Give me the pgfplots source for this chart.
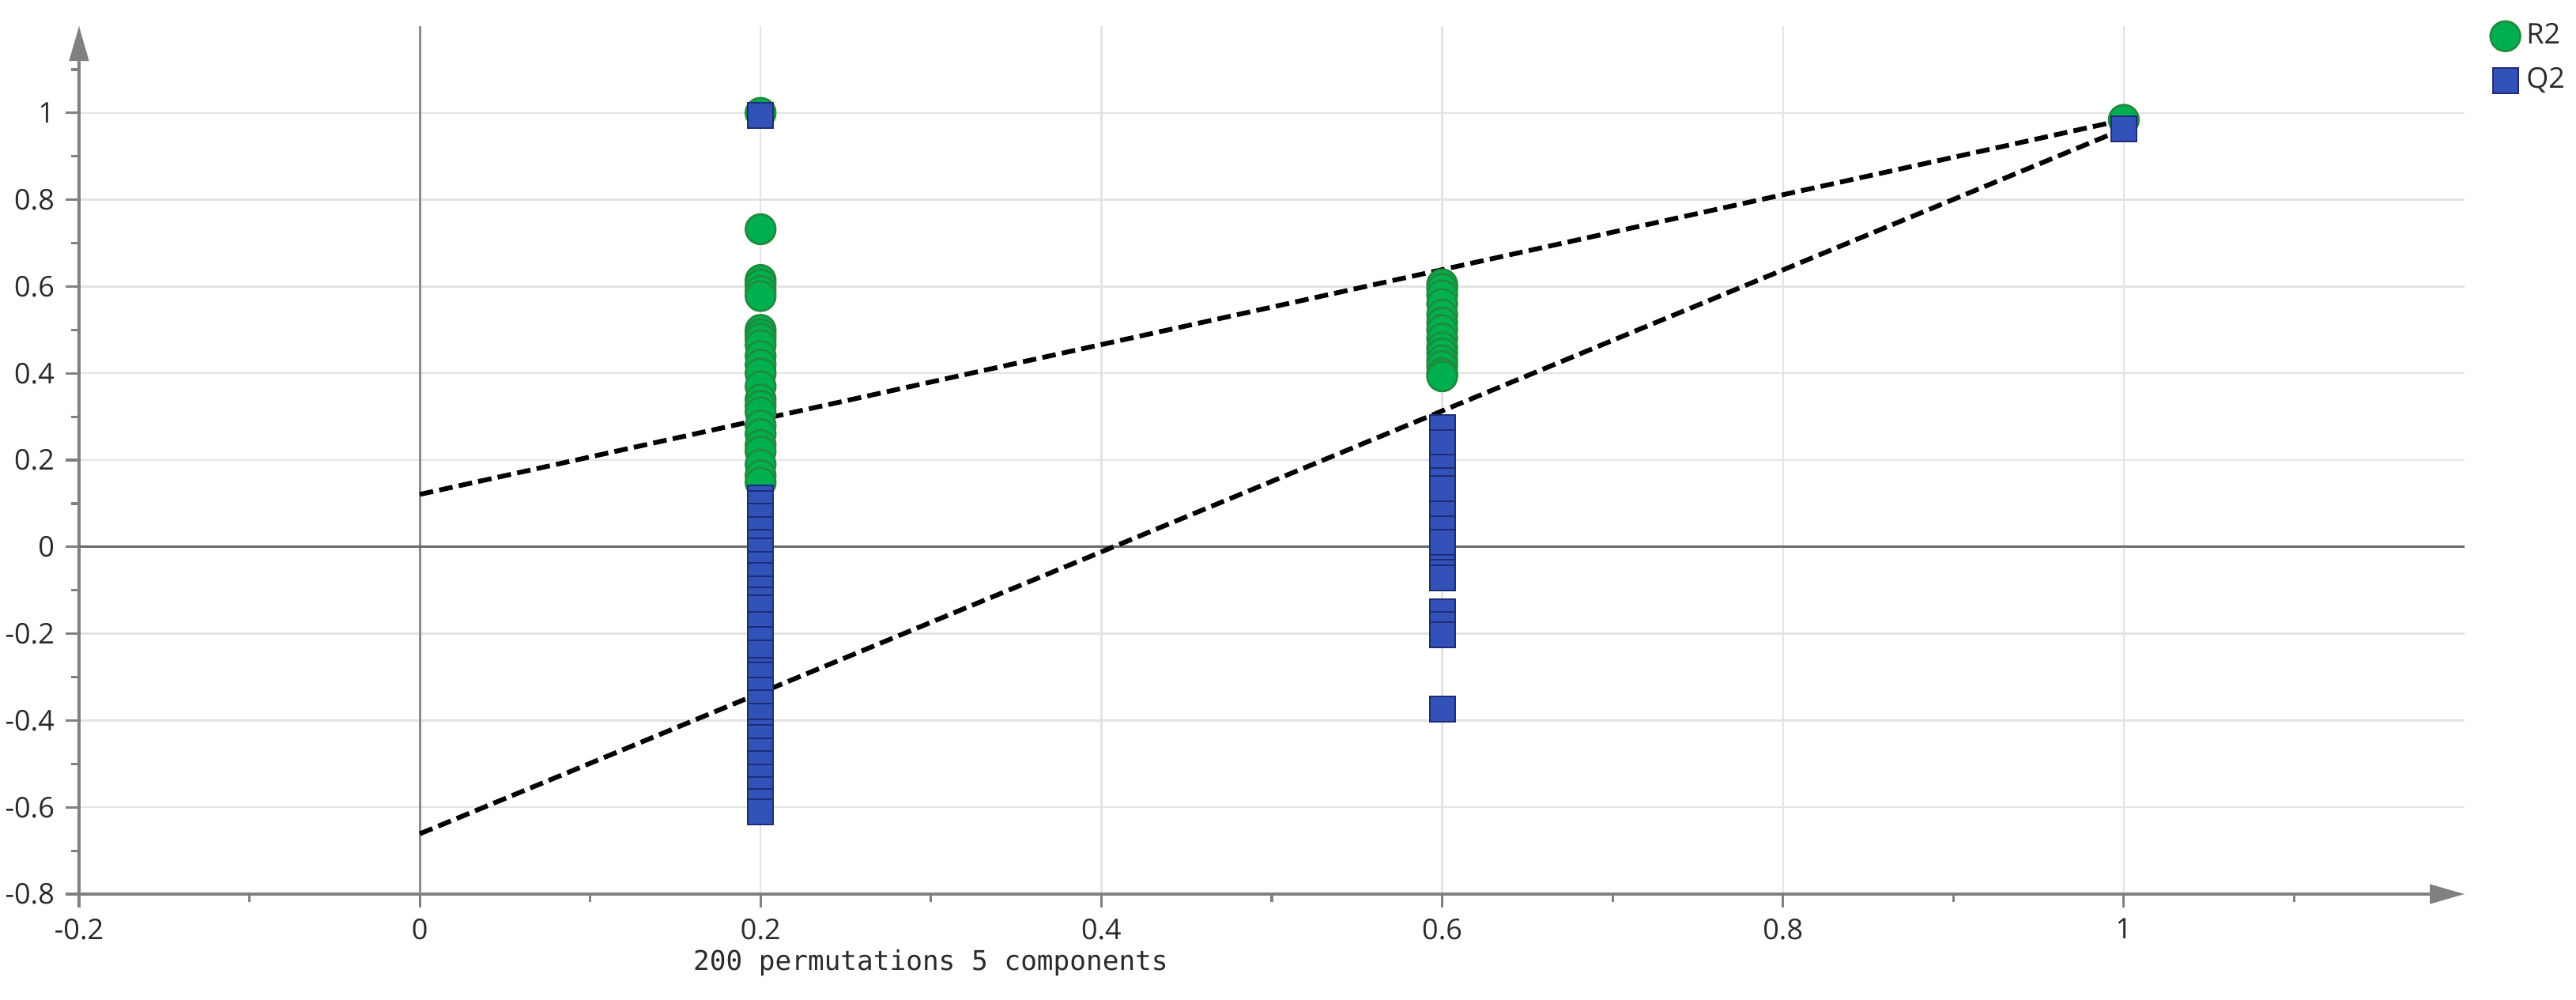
\documentclass[border=0pt]{standalone}
\usepackage{fontspec}
\setmainfont{Open Sans}
\newfontfamily\monofont{DejaVu Sans Mono}
\usepackage{pgfplots}
\pgfplotsset{compat=1.18}
\usetikzlibrary{arrows.meta}
\definecolor{rtwo}{HTML}{00B050}
\definecolor{rtwoedge}{HTML}{1E8C3C}
\definecolor{qtwo}{HTML}{3252B9}
\definecolor{qtwoedge}{HTML}{1E2C78}
\definecolor{axgray}{HTML}{808080}
\definecolor{gridgray}{HTML}{E3E3E3}
\definecolor{zeroxgray}{HTML}{8C8C8C}
\definecolor{zeroygray}{HTML}{6A6A6A}
\definecolor{labgray}{HTML}{2A2A2A}
\begin{document}
\begin{tikzpicture}
\useasboundingbox (-25pt,-33.5pt) rectangle (789.75pt,282.75pt);
\begin{axis}[
  scale only axis, width=754.5pt, height=274.5pt,
  xmin=-0.2, xmax=1.2, ymin=-0.8, ymax=1.2,
  axis lines*=left,
  axis line style={draw=axgray, line width=1.1pt, -{Triangle[length=11pt,width=6pt]}},
  tick align=outside,
  major tick length=4.25pt, minor tick length=2.5pt,
  tick style={draw=axgray, line width=0.8pt},
  xtick={-0.2,0,0.2,0.4,0.6,0.8,1},
  xticklabels={-0.2,0,0.2,0.4,0.6,0.8,1},
  minor xtick={-0.1,0.1,0.3,0.5,0.7,0.9,1.1},
  ytick={-0.8,-0.6,-0.4,-0.2,0,0.2,0.4,0.6,0.8,1},
  yticklabels={-0.8,-0.6,-0.4,-0.2,0,0.2,0.4,0.6,0.8,1},
  minor ytick={-0.7,-0.5,-0.3,-0.1,0.1,0.3,0.5,0.7,0.9,1.1},
  grid=major,
  major grid style={draw=gridgray, line width=0.6pt},
  extra x ticks={0}, extra x tick labels={},
  extra x tick style={grid=major, major grid style={draw=zeroxgray, line width=0.7pt}},
  extra y ticks={0}, extra y tick labels={},
  extra y tick style={grid=major, major grid style={draw=zeroygray, line width=0.8pt}},
  ticklabel style={font=\fontsize{9}{10}\selectfont, text=labgray},
  xlabel={200 permutations 5 components},
  xlabel style={font=\monofont\fontsize{8.6}{10}\selectfont, text=labgray,
    at={(axis description cs:0.357,0)}, anchor=center, yshift=-21.75pt},
  legend style={at={(axis description cs:1,1)}, anchor=north west,
    xshift=8pt, yshift=3pt, draw=none, fill=none, inner sep=0pt,
    font=\fontsize{9}{10}\selectfont, text=labgray, row sep=2pt},
  legend cell align=left,
  legend image code/.code={\draw[#1] plot coordinates {(0pt,0pt)};},
]
\addplot[black, line width=1.5pt, dash pattern=on 4.3pt off 2pt, forget plot]
  coordinates {(0,0.121) (1,0.984)};
\addplot[black, line width=1.5pt, dash pattern=on 4.3pt off 2pt, forget plot]
  coordinates {(0,-0.661) (1,0.963)};
\addplot[only marks, mark=*, mark size=4.7pt,
  mark options={fill=rtwo, draw=rtwoedge, line width=0.7pt}]
  coordinates {
  (0.2,1.0)(0.2,0.732)(0.2,0.615)(0.2,0.605)(0.2,0.59)(0.2,0.578)
  (0.2,0.50)(0.2,0.49)(0.2,0.48)(0.2,0.465)(0.2,0.44)(0.2,0.42)
  (0.2,0.40)(0.2,0.37)(0.2,0.34)(0.2,0.325)(0.2,0.31)(0.2,0.28)
  (0.2,0.26)(0.2,0.235)(0.2,0.22)(0.2,0.19)(0.2,0.165)(0.2,0.148)
  (0.6,0.605)(0.6,0.595)(0.6,0.58)(0.6,0.56)(0.6,0.535)(0.6,0.517)
  (0.6,0.50)(0.6,0.48)(0.6,0.46)(0.6,0.446)(0.6,0.43)(0.6,0.417)
  (0.6,0.40)(0.6,0.393)
  (1,0.984)
  };
\addlegendentry{R2}
\addplot[only marks, mark=square*, mark size=4pt,
  mark options={fill=qtwo, draw=qtwoedge, line width=0.5pt}]
  coordinates {
  (0.2,0.995)(0.2,0.113)(0.2,0.10)(0.2,0.07)(0.2,0.04)(0.2,0.01)
  (0.2,-0.01)(0.2,-0.04)(0.2,-0.066)(0.2,-0.096)(0.2,-0.123)(0.2,-0.141)
  (0.2,-0.178)(0.2,-0.214)(0.2,-0.245)(0.2,-0.285)(0.2,-0.296)(0.2,-0.33)
  (0.2,-0.36)(0.2,-0.39)(0.2,-0.427)(0.2,-0.44)(0.2,-0.47)(0.2,-0.50)
  (0.2,-0.53)(0.2,-0.56)(0.2,-0.587)(0.2,-0.61)
  (0.6,0.275)(0.6,0.24)(0.6,0.183)(0.6,0.152)(0.6,0.134)(0.6,0.077)
  (0.6,0.041)(0.6,0.01)(0.6,-0.048)(0.6,-0.059)(0.6,-0.072)
  (0.6,-0.15)(0.6,-0.178)(0.6,-0.203)(0.6,-0.373)
  (1,0.963)
  };
\addlegendentry{Q2}
\end{axis}
\end{tikzpicture}
\end{document}
